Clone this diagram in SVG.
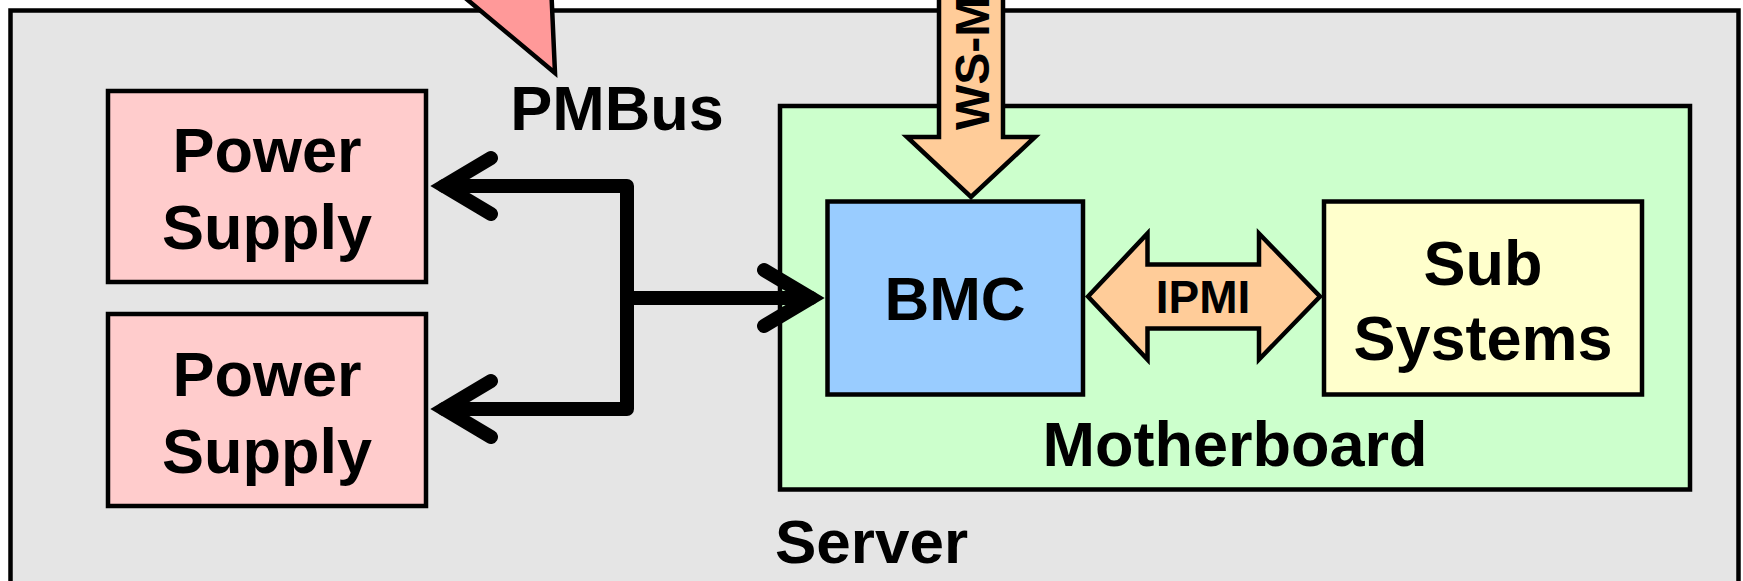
<svg xmlns="http://www.w3.org/2000/svg" width="1743" height="581" viewBox="0 0 1743 581">
<style>
.box{stroke:#000;stroke-width:4.5}
.t{font-family:"Liberation Sans",Arial,sans-serif;font-weight:bold;fill:#000;text-anchor:middle}
.wire{fill:none;stroke:#000;stroke-width:14;stroke-linecap:round}
</style>
<rect width="1743" height="581" fill="#ffffff"/>
<g id="server">
<rect class="box" x="10.5" y="10.5" width="1728" height="620" fill="#e5e5e5"/>
<text class="t" x="775" y="563" font-size="62" style="text-anchor:start">Server</text>
</g>
<g id="pmbus-arrow">
<polygon class="box" points="555,73 396,-60 549,-60" fill="#ff9999" stroke-linejoin="miter"/>
<text class="t" x="617" y="130" font-size="63">PMBus</text>
</g>
<g id="psu1">
<rect class="box" x="108" y="91" width="318" height="191" fill="#ffcccc"/>
<text class="t" x="267" y="172" font-size="63">Power</text>
<text class="t" x="267" y="249" font-size="63">Supply</text>
</g>
<g id="psu2">
<rect class="box" x="108" y="314" width="318" height="192" fill="#ffcccc"/>
<text class="t" x="267" y="396" font-size="63">Power</text>
<text class="t" x="267" y="473" font-size="63">Supply</text>
</g>
<g id="motherboard">
<rect class="box" x="780" y="106" width="910" height="383.5" fill="#ccffcc"/>
<text class="t" x="1235" y="466" font-size="63">Motherboard</text>
</g>
<g id="bmc">
<rect class="box" x="827.5" y="201.5" width="255.5" height="193" fill="#99ccff"/>
<text class="t" x="955" y="320" font-size="62">BMC</text>
</g>
<g id="subsystems">
<rect class="box" x="1324" y="201.5" width="318" height="193" fill="#ffffcc"/>
<text class="t" x="1483" y="285" font-size="63">Sub</text>
<text class="t" x="1483" y="360" font-size="63">Systems</text>
</g>
<g id="ws-management">
<polygon class="box" points="939,-10 939,137 907,137 971,197 1035,137 1003,137 1003,-10" fill="#ffcc99"/>
<text class="t" transform="translate(989,130) rotate(-90)" font-size="48" style="text-anchor:start">WS-M</text>
</g>
<g id="ipmi">
<polygon class="box" points="1088,296.5 1147.5,233.5 1147.5,264.5 1259,264.5 1259,233.5 1320,296.5 1259,359.5 1259,328.5 1147.5,328.5 1147.5,359.5" fill="#ffcc99"/>
<text class="t" x="1203" y="313" font-size="46">IPMI</text>
</g>
<g id="connectors">
<path class="wire" stroke-linejoin="round" d="M444 186 H627 V409 H444 M627 298 H811"/>
<path class="wire" stroke-linejoin="miter" d="M491 158 L444 186 L491 214 M491 381 L444 409 L491 437 M764 270 L811 298 L764 326"/>
</g>
</svg>
